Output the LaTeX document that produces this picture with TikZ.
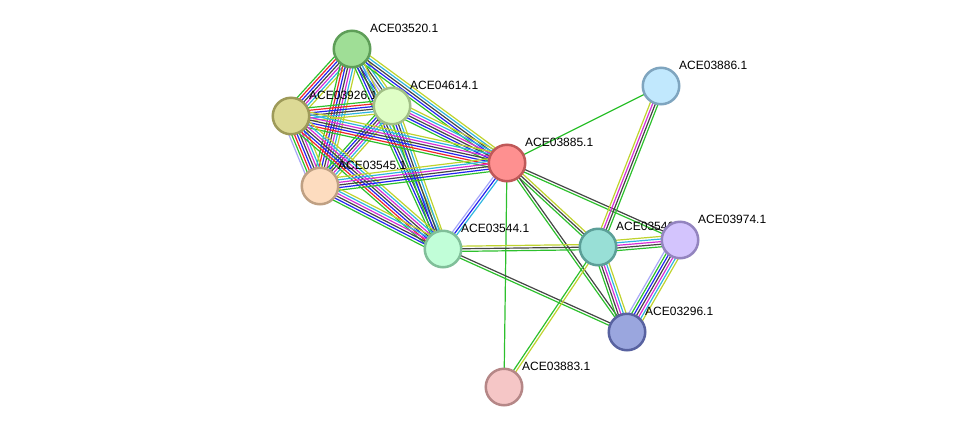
\documentclass[tikz,border=0pt]{standalone}
\usepackage{fontspec}
\setmainfont{Liberation Sans}
\usetikzlibrary{calc,backgrounds}
\definecolor{nb}{HTML}{2DC02D}
\definecolor{fu}{HTML}{F0252B}
\definecolor{co}{HTML}{2424F0}
\definecolor{cx}{HTML}{454545}
\definecolor{ex}{HTML}{D62ED6}
\definecolor{db}{HTML}{2FB5E0}
\definecolor{tm}{HTML}{BFD32E}
\definecolor{ho}{HTML}{A8A8F8}
\definecolor{f20}{HTML}{9FDE96}\definecolor{d20}{HTML}{5E9E58}
\definecolor{f26}{HTML}{DCD995}\definecolor{d26}{HTML}{9E9A59}
\definecolor{f14}{HTML}{DFFEC6}\definecolor{d14}{HTML}{A1BF86}
\definecolor{f45}{HTML}{FDDCBF}\definecolor{d45}{HTML}{BFA083}
\definecolor{f85}{HTML}{FE9090}\definecolor{d85}{HTML}{BF5858}
\definecolor{f86}{HTML}{C1E8FD}\definecolor{d86}{HTML}{7FA5BF}
\definecolor{f44}{HTML}{C1FED8}\definecolor{d44}{HTML}{80BF99}
\definecolor{f46}{HTML}{98DFD6}\definecolor{d46}{HTML}{5C9F98}
\definecolor{f74}{HTML}{D3C4FD}\definecolor{d74}{HTML}{9384BF}
\definecolor{f96}{HTML}{9AA6DE}\definecolor{d96}{HTML}{5862A0}
\definecolor{f83}{HTML}{F5C6C6}\definecolor{d83}{HTML}{B58787}
\tikzset{
  edge/.style={line width=1.2pt},
  prot/.style={circle,minimum size=36.5pt,inner sep=0pt,line width=2.5pt},
  lab/.style={anchor=west,font=\fontsize{12pt}{12pt}\selectfont,text=black,inner sep=0pt}
}
\newcommand\gnode[6]{%
  \node[prot,fill=#4,draw=#5] (#1) at (#2,#3) {};
  \node[lab] (#1l) at ($(#1)+(18,-21)$) {#6};
}
\newcommand\medge[4]{%
  \foreach \c [count=\i] in {#4}{%
    \pgfmathsetmacro\off{(\i-(#3+1)/2)*2.6}%
    \draw[edge,\c] ($(#1)!\off pt!90:(#2)$) -- ($(#2)!\off pt!-90:(#1)$);
  }}
\begin{document}
\begin{tikzpicture}[x=1pt,y=-1pt]
\useasboundingbox (0,0) rectangle (975,432);
\gnode{n20}{352}{49}{f20}{d20}{ACE03520.1}
\gnode{n26}{291}{116}{f26}{d26}{ACE03926.1}
\gnode{n14}{392}{106}{f14}{d14}{ACE04614.1}
\gnode{n45}{320}{186}{f45}{d45}{ACE03545.1}
\gnode{n85}{507}{163}{f85}{d85}{ACE03885.1}
\gnode{n86}{661}{86}{f86}{d86}{ACE03886.1}
\gnode{n44}{443}{249}{f44}{d44}{ACE03544.1}
\gnode{n46}{598}{247}{f46}{d46}{ACE03546.1}
\gnode{n74}{680}{240}{f74}{d74}{ACE03974.1}
\gnode{n96}{627}{332}{f96}{d96}{ACE03296.1}
\gnode{n83}{504}{387}{f83}{d83}{ACE03883.1}
\begin{scope}[on background layer]
\medge{n20}{n26}{7}{nb,fu,co,cx,ex,db,tm}
\medge{n20}{n14}{6}{nb,co,ho,cx,db,tm}
\medge{n20}{n45}{7}{nb,fu,co,cx,ex,db,tm}
\medge{n20}{n85}{5}{nb,co,cx,db,tm}
\medge{n20}{n44}{5}{nb,co,cx,db,tm}
\medge{n14}{n26}{6}{nb,fu,co,cx,db,tm}
\medge{n14}{n45}{6}{nb,co,cx,ex,db,tm}
\medge{n14}{n85}{6}{nb,co,cx,ex,db,tm}
\medge{n14}{n44}{5}{nb,co,cx,db,tm}
\medge{n26}{n45}{8}{ho,nb,fu,co,cx,ex,db,tm}
\medge{n26}{n85}{7}{nb,fu,co,cx,ex,db,tm}
\medge{n26}{n44}{7}{nb,fu,co,cx,ex,db,tm}
\medge{n45}{n85}{6}{nb,co,cx,ex,db,tm}
\medge{n45}{n44}{6}{nb,co,cx,ex,db,tm}
\medge{n85}{n44}{3}{ho,co,db}
\medge{n85}{n86}{1}{nb}
\medge{n85}{n83}{1}{nb}
\medge{n85}{n46}{3}{nb,cx,tm}
\medge{n85}{n74}{2}{nb,cx}
\medge{n85}{n96}{2}{nb,cx}
\medge{n44}{n46}{3}{nb,cx,tm}
\medge{n44}{n96}{2}{nb,cx}
\medge{n46}{n74}{5}{nb,cx,ex,db,tm}
\medge{n46}{n86}{4}{nb,cx,ex,tm}
\medge{n46}{n96}{5}{nb,cx,ex,db,tm}
\medge{n74}{n96}{7}{ho,nb,co,cx,ex,db,tm}
\medge{n46}{n83}{2}{nb,tm}
\end{scope}
\end{tikzpicture}
\end{document}
